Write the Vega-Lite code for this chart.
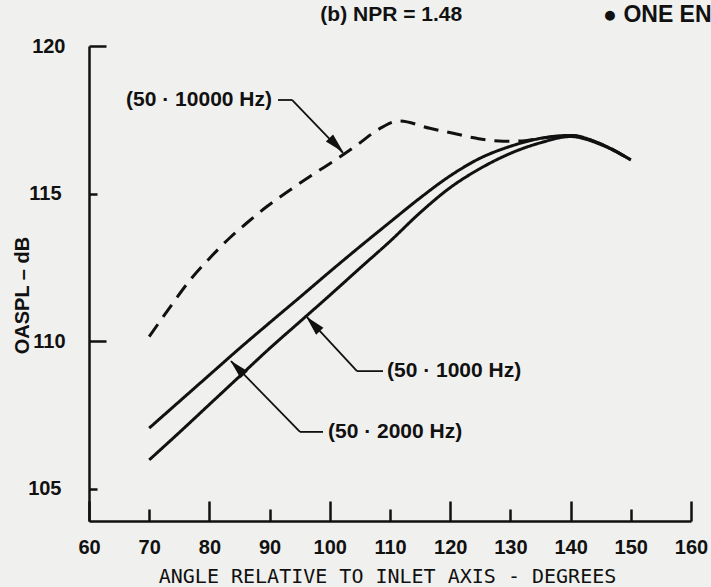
{
  "$schema": "https://vega.github.io/schema/vega-lite/v6.json",
  "width": 602,
  "height": 475,
  "autosize": {"type": "none"},
  "padding": {"left": 89, "top": 46, "right": 20, "bottom": 66},
  "background": "#f0f0ee",
  "config": {"view": {"stroke": null}, "font": "Liberation Sans"},
  "layer": [
    {
      "data": {"values": [
        {"band": "50-2000 Hz", "angle": 70, "oaspl": 107.05},
        {"band": "50-2000 Hz", "angle": 75, "oaspl": 107.95},
        {"band": "50-2000 Hz", "angle": 80, "oaspl": 108.85},
        {"band": "50-2000 Hz", "angle": 85, "oaspl": 109.75},
        {"band": "50-2000 Hz", "angle": 90, "oaspl": 110.62},
        {"band": "50-2000 Hz", "angle": 95, "oaspl": 111.48},
        {"band": "50-2000 Hz", "angle": 100, "oaspl": 112.35},
        {"band": "50-2000 Hz", "angle": 105, "oaspl": 113.2},
        {"band": "50-2000 Hz", "angle": 110, "oaspl": 114.03},
        {"band": "50-2000 Hz", "angle": 115, "oaspl": 114.85},
        {"band": "50-2000 Hz", "angle": 120, "oaspl": 115.6},
        {"band": "50-2000 Hz", "angle": 125, "oaspl": 116.2},
        {"band": "50-2000 Hz", "angle": 130, "oaspl": 116.6},
        {"band": "50-2000 Hz", "angle": 135, "oaspl": 116.87},
        {"band": "50-2000 Hz", "angle": 140, "oaspl": 116.97},
        {"band": "50-2000 Hz", "angle": 145, "oaspl": 116.68},
        {"band": "50-2000 Hz", "angle": 150, "oaspl": 116.14},
        {"band": "50-1000 Hz", "angle": 70, "oaspl": 105.97},
        {"band": "50-1000 Hz", "angle": 75, "oaspl": 106.9},
        {"band": "50-1000 Hz", "angle": 80, "oaspl": 107.85},
        {"band": "50-1000 Hz", "angle": 85, "oaspl": 108.8},
        {"band": "50-1000 Hz", "angle": 90, "oaspl": 109.75},
        {"band": "50-1000 Hz", "angle": 95, "oaspl": 110.65},
        {"band": "50-1000 Hz", "angle": 100, "oaspl": 111.55},
        {"band": "50-1000 Hz", "angle": 105, "oaspl": 112.47},
        {"band": "50-1000 Hz", "angle": 110, "oaspl": 113.38},
        {"band": "50-1000 Hz", "angle": 115, "oaspl": 114.35},
        {"band": "50-1000 Hz", "angle": 120, "oaspl": 115.2},
        {"band": "50-1000 Hz", "angle": 125, "oaspl": 115.85},
        {"band": "50-1000 Hz", "angle": 130, "oaspl": 116.36},
        {"band": "50-1000 Hz", "angle": 135, "oaspl": 116.72},
        {"band": "50-1000 Hz", "angle": 140, "oaspl": 116.93},
        {"band": "50-1000 Hz", "angle": 145, "oaspl": 116.66},
        {"band": "50-1000 Hz", "angle": 150, "oaspl": 116.14},
        {"band": "50-10000 Hz", "angle": 70, "oaspl": 110.15},
        {"band": "50-10000 Hz", "angle": 73.5, "oaspl": 111.16},
        {"band": "50-10000 Hz", "angle": 76.8, "oaspl": 112.07},
        {"band": "50-10000 Hz", "angle": 80, "oaspl": 112.8},
        {"band": "50-10000 Hz", "angle": 83.4, "oaspl": 113.5},
        {"band": "50-10000 Hz", "angle": 86.2, "oaspl": 114.0},
        {"band": "50-10000 Hz", "angle": 89.5, "oaspl": 114.55},
        {"band": "50-10000 Hz", "angle": 93.4, "oaspl": 115.12},
        {"band": "50-10000 Hz", "angle": 97.3, "oaspl": 115.66},
        {"band": "50-10000 Hz", "angle": 101.1, "oaspl": 116.16},
        {"band": "50-10000 Hz", "angle": 104.5, "oaspl": 116.64},
        {"band": "50-10000 Hz", "angle": 108.3, "oaspl": 117.2},
        {"band": "50-10000 Hz", "angle": 111.5, "oaspl": 117.46},
        {"band": "50-10000 Hz", "angle": 116.6, "oaspl": 117.21},
        {"band": "50-10000 Hz", "angle": 120.5, "oaspl": 117.04},
        {"band": "50-10000 Hz", "angle": 124.4, "oaspl": 116.87},
        {"band": "50-10000 Hz", "angle": 128.8, "oaspl": 116.77},
        {"band": "50-10000 Hz", "angle": 132, "oaspl": 116.78},
        {"band": "50-10000 Hz", "angle": 135, "oaspl": 116.87},
        {"band": "50-10000 Hz", "angle": 140, "oaspl": 116.97},
        {"band": "50-10000 Hz", "angle": 145, "oaspl": 116.68},
        {"band": "50-10000 Hz", "angle": 150, "oaspl": 116.14}
      ]},
      "mark": {"type": "line", "interpolate": "monotone", "strokeWidth": 3, "color": "#111"},
      "encoding": {
        "x": {"field": "angle", "type": "quantitative",
          "scale": {"domain": [60, 160], "nice": false, "zero": false},
          "axis": {"values": [60, 70, 80, 90, 100, 110, 120, 130, 140, 150, 160],
            "title": "ANGLE RELATIVE TO INLET AXIS - DEGREES",
            "titleFont": "DejaVu Sans Mono", "titleFontSize": 20, "titleFontWeight": "normal", "titleColor": "#111",
            "titleX": 298, "titleY": 55, "titleBaseline": "middle", "titleAlign": "center",
            "labelFont": "Liberation Sans", "labelFontSize": 20, "labelFontWeight": "bold", "labelColor": "#111",
            "labelPadding": {"condition": {"test": "datum.value % 20 === 0", "value": 36}, "value": 28},
            "labelFlush": false, "labelOverlap": false,
            "tickSize": {"condition": {"test": "datum.value % 20 === 0", "value": -20}, "value": -12},
            "tickWidth": 2.5, "tickColor": "#111", "domainColor": "#111", "domainWidth": 2.5, "grid": false}},
        "y": {"field": "oaspl", "type": "quantitative",
          "scale": {"domain": [103.9, 120], "nice": false, "zero": false},
          "axis": {"values": [105, 110, 115, 120],
            "title": "OASPL – dB",
            "titleFont": "Liberation Sans", "titleFontSize": 20, "titleFontWeight": "bold", "titleColor": "#111",
            "titleX": -67, "titleY": 249, "titleBaseline": "middle", "titleAlign": "center", "titleAngle": -90,
            "labelFont": "Liberation Sans", "labelFontSize": 20, "labelFontWeight": "bold", "labelColor": "#111",
            "labelPadding": {"condition": {"test": "datum.value % 10 === 0", "value": 41}, "value": 36},
            "labelFlush": false, "labelOverlap": false,
            "tickSize": {"condition": {"test": "datum.value % 10 === 0", "value": -17}, "value": -8},
            "tickWidth": 2.5, "tickColor": "#111", "domainColor": "#111", "domainWidth": 2.5, "grid": false}},
        "detail": {"field": "band"},
        "strokeDash": {"field": "band", "type": "nominal",
          "scale": {"domain": ["50-1000 Hz", "50-2000 Hz", "50-10000 Hz"], "range": [[1, 0], [1, 0], [15, 9]]},
          "legend": null}
      }
    },
    {
      "data": {"values": [
        {"angle": 91.4, "oaspl": 118.17, "angle2": 93.72, "oaspl2": 118.17},
        {"angle": 93.72, "oaspl": 118.17, "angle2": 102.19, "oaspl2": 116.38},
        {"angle": 108.84, "oaspl": 108.98, "angle2": 104.52, "oaspl2": 108.98},
        {"angle": 104.52, "oaspl": 108.98, "angle2": 96.21, "oaspl2": 110.81},
        {"angle": 98.87, "oaspl": 106.92, "angle2": 95.05, "oaspl2": 106.92},
        {"angle": 95.05, "oaspl": 106.92, "angle2": 83.59, "oaspl2": 109.32}
      ]},
      "mark": {"type": "rule", "strokeWidth": 1.8, "color": "#111"},
      "encoding": {
        "x": {"field": "angle", "type": "quantitative"},
        "y": {"field": "oaspl", "type": "quantitative"},
        "x2": {"field": "angle2"},
        "y2": {"field": "oaspl2"}
      }
    },
    {
      "data": {"values": [
        {"angle": 101.1, "oaspl": 116.64, "ang": 136},
        {"angle": 97.2, "oaspl": 110.58, "ang": 317},
        {"angle": 84.62, "oaspl": 109.1, "ang": 316}
      ]},
      "mark": {"type": "point", "shape": "M0,-1L0.5,1L-0.5,1Z", "filled": true, "color": "#111", "opacity": 1, "size": 400},
      "encoding": {
        "x": {"field": "angle", "type": "quantitative"},
        "y": {"field": "oaspl", "type": "quantitative"},
        "angle": {"field": "ang", "type": "quantitative", "scale": null}
      }
    },
    {
      "data": {"values": [
        {"angle": 90.4, "oaspl": 118.17, "label": "(50 · 10000 Hz)"}
      ]},
      "mark": {"type": "text", "align": "right", "baseline": "middle", "font": "Liberation Sans", "fontSize": 21, "fontWeight": "bold", "color": "#111"},
      "encoding": {
        "x": {"field": "angle", "type": "quantitative"},
        "y": {"field": "oaspl", "type": "quantitative"},
        "text": {"field": "label"}
      }
    },
    {
      "data": {"values": [
        {"angle": 110.2, "oaspl": 121.05, "label": "(b) NPR = 1.48"}
      ]},
      "mark": {"type": "text", "align": "center", "baseline": "middle", "font": "Liberation Sans", "fontSize": 21, "fontWeight": "bold", "color": "#111"},
      "encoding": {
        "x": {"field": "angle", "type": "quantitative"},
        "y": {"field": "oaspl", "type": "quantitative"},
        "text": {"field": "label"}
      }
    },
    {
      "data": {"values": [
        {"angle": 109.5, "oaspl": 108.98, "label": "(50 · 1000 Hz)"},
        {"angle": 99.7, "oaspl": 106.92, "label": "(50 · 2000 Hz)"}
      ]},
      "mark": {"type": "text", "align": "left", "baseline": "middle", "font": "Liberation Sans", "fontSize": 21, "fontWeight": "bold", "color": "#111"},
      "encoding": {
        "x": {"field": "angle", "type": "quantitative"},
        "y": {"field": "oaspl", "type": "quantitative"},
        "text": {"field": "label"}
      }
    },
    {
      "data": {"values": [
        {"angle": 145.4, "oaspl": 121.05, "label": "● ONE ENGINE"}
      ]},
      "mark": {"type": "text", "align": "left", "baseline": "middle", "font": "Liberation Sans", "fontSize": 23, "fontWeight": "bold", "color": "#111"},
      "encoding": {
        "x": {"field": "angle", "type": "quantitative"},
        "y": {"field": "oaspl", "type": "quantitative"},
        "text": {"field": "label"}
      }
    }
  ]
}
